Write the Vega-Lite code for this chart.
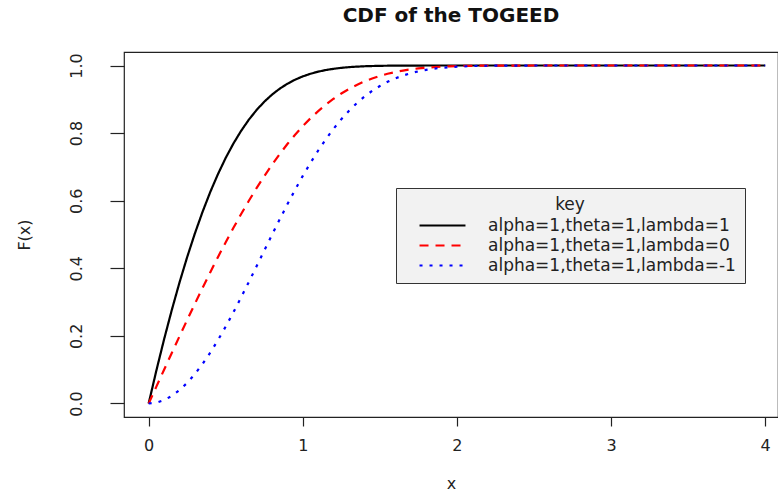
{
  "$schema": "https://vega.github.io/schema/vega-lite/v6.json",
  "width": 654,
  "height": 365,
  "autosize": {"type": "none"},
  "padding": {"left": 124, "top": 52, "right": 0, "bottom": 77},
  "background": "white",
  "config": {
    "font": "DejaVu Sans",
    "view": {"stroke": "#222", "strokeWidth": 1.2},
    "axis": {"grid": false, "domain": false, "tickColor": "#222", "labelColor": "#222", "titleColor": "#222", "labelFont": "DejaVu Sans", "titleFont": "DejaVu Sans", "labelFontSize": 16, "titleFontSize": 16, "titleFontWeight": "normal", "tickWidth": 1.2}
  },
  "title": {"text": "CDF of the TOGEED", "font": "DejaVu Sans", "fontSize": 20, "fontWeight": "bold", "color": "#111", "anchor": "middle", "offset": 26},
  "data": {"values": [
    {"x": 0, "a": 0, "b": 0, "c": 0},
    {"x": 0.05, "a": 0.0975, "b": 0.05, "c": 0.0025},
    {"x": 0.1, "a": 0.1897, "b": 0.0998, "c": 0.01},
    {"x": 0.15, "a": 0.2765, "b": 0.1494, "c": 0.0223},
    {"x": 0.2, "a": 0.3578, "b": 0.1986, "c": 0.0394},
    {"x": 0.25, "a": 0.4334, "b": 0.2473, "c": 0.0611},
    {"x": 0.3, "a": 0.5033, "b": 0.2952, "c": 0.0872},
    {"x": 0.35, "a": 0.5675, "b": 0.3423, "c": 0.1172},
    {"x": 0.4, "a": 0.6261, "b": 0.3885, "c": 0.1509},
    {"x": 0.45, "a": 0.6791, "b": 0.4335, "c": 0.1879},
    {"x": 0.5, "a": 0.7268, "b": 0.4773, "c": 0.2278},
    {"x": 0.55, "a": 0.7693, "b": 0.5197, "c": 0.27},
    {"x": 0.6, "a": 0.8068, "b": 0.5605, "c": 0.3142},
    {"x": 0.65, "a": 0.8398, "b": 0.5997, "c": 0.3596},
    {"x": 0.7, "a": 0.8683, "b": 0.6371, "c": 0.406},
    {"x": 0.75, "a": 0.8929, "b": 0.6727, "c": 0.4526},
    {"x": 0.8, "a": 0.9138, "b": 0.7064, "c": 0.499},
    {"x": 0.85, "a": 0.9314, "b": 0.7381, "c": 0.5447},
    {"x": 0.9, "a": 0.946, "b": 0.7677, "c": 0.5893},
    {"x": 0.95, "a": 0.9581, "b": 0.7952, "c": 0.6323},
    {"x": 1.0, "a": 0.9678, "b": 0.8206, "c": 0.6734},
    {"x": 1.05, "a": 0.9757, "b": 0.844, "c": 0.7123},
    {"x": 1.1, "a": 0.9818, "b": 0.8652, "c": 0.7486},
    {"x": 1.15, "a": 0.9867, "b": 0.8845, "c": 0.7823},
    {"x": 1.2, "a": 0.9903, "b": 0.9017, "c": 0.8131},
    {"x": 1.25, "a": 0.9931, "b": 0.9171, "c": 0.8411},
    {"x": 1.3, "a": 0.9952, "b": 0.9307, "c": 0.8662},
    {"x": 1.35, "a": 0.9967, "b": 0.9426, "c": 0.8885},
    {"x": 1.4, "a": 0.9978, "b": 0.9529, "c": 0.908},
    {"x": 1.45, "a": 0.9985, "b": 0.9617, "c": 0.9249},
    {"x": 1.5, "a": 0.9991, "b": 0.9692, "c": 0.9394},
    {"x": 1.55, "a": 0.9994, "b": 0.9756, "c": 0.9517},
    {"x": 1.6, "a": 0.9996, "b": 0.9808, "c": 0.962},
    {"x": 1.65, "a": 0.9998, "b": 0.9851, "c": 0.9704},
    {"x": 1.7, "a": 0.9999, "b": 0.9886, "c": 0.9773},
    {"x": 1.75, "a": 0.9999, "b": 0.9914, "c": 0.9829},
    {"x": 1.8, "a": 1.0, "b": 0.9936, "c": 0.9872},
    {"x": 1.85, "a": 1.0, "b": 0.9953, "c": 0.9906},
    {"x": 1.9, "a": 1.0, "b": 0.9966, "c": 0.9932},
    {"x": 1.95, "a": 1.0, "b": 0.9976, "c": 0.9952},
    {"x": 2.0, "a": 1.0, "b": 0.9983, "c": 0.9966},
    {"x": 2.1, "a": 1.0, "b": 0.9992, "c": 0.9985},
    {"x": 2.2, "a": 1.0, "b": 0.9997, "c": 0.9993},
    {"x": 2.3, "a": 1.0, "b": 0.9999, "c": 0.9997},
    {"x": 2.5, "a": 1.0, "b": 1.0, "c": 1.0},
    {"x": 3.0, "a": 1.0, "b": 1.0, "c": 1.0},
    {"x": 3.5, "a": 1.0, "b": 1.0, "c": 1.0},
    {"x": 4.0, "a": 1.0, "b": 1.0, "c": 1.0}
  ]},
  "transform": [{"fold": ["a", "b", "c"], "as": ["key", "F"]}],
  "mark": {"type": "line", "strokeWidth": 2.2, "clip": true},
  "encoding": {
    "x": {"field": "x", "type": "quantitative", "scale": {"domain": [-0.16, 4.083], "nice": false, "zero": false},
      "axis": {"values": [0, 1, 2, 3, 4], "format": "d", "tickSize": 9, "labelPadding": 11, "title": "x", "titlePadding": 22, "labelFlush": false}},
    "y": {"field": "F", "type": "quantitative", "scale": {"domain": [-0.04, 1.04], "nice": false, "zero": false},
      "axis": {"values": [0, 0.2, 0.4, 0.6, 0.8, 1.0], "format": ".1f", "tickSize": 14, "labelAngle": 270, "labelPadding": 26, "labelAlign": "center", "labelBaseline": "bottom", "title": "F(x)", "titlePadding": 36, "labelFlush": false}},
    "stroke": {"field": "key", "type": "nominal",
      "scale": {"domain": ["a", "b", "c"], "range": ["#000000", "#ff0000", "#0000ff"]},
      "legend": {"title": "key", "orient": "none", "legendX": 272, "legendY": 136,
        "labelExpr": "datum.label == 'a' ? 'alpha=1,theta=1,lambda=1' : datum.label == 'b' ? 'alpha=1,theta=1,lambda=0' : 'alpha=1,theta=1,lambda=-1'",
        "symbolType": "M-4,0H4", "symbolSize": 132, "symbolStrokeWidth": 2.2,
        "fillColor": "#f2f2f2", "strokeColor": "#333", "padding": 9,
        "titleAnchor": "middle", "titleFontSize": 17, "titleFontWeight": "normal", "titleFont": "DejaVu Sans", "titleColor": "#222", "titlePadding": 3,
        "labelFontSize": 17, "labelFont": "DejaVu Sans", "labelColor": "#222", "labelLimit": 400, "labelOffset": 37, "symbolOffset": 29, "rowPadding": 2}},
    "strokeDash": {"field": "key", "type": "nominal",
      "scale": {"domain": ["a", "b", "c"], "range": [[1, 0], [9, 7], [3, 7]]}}
  }
}
